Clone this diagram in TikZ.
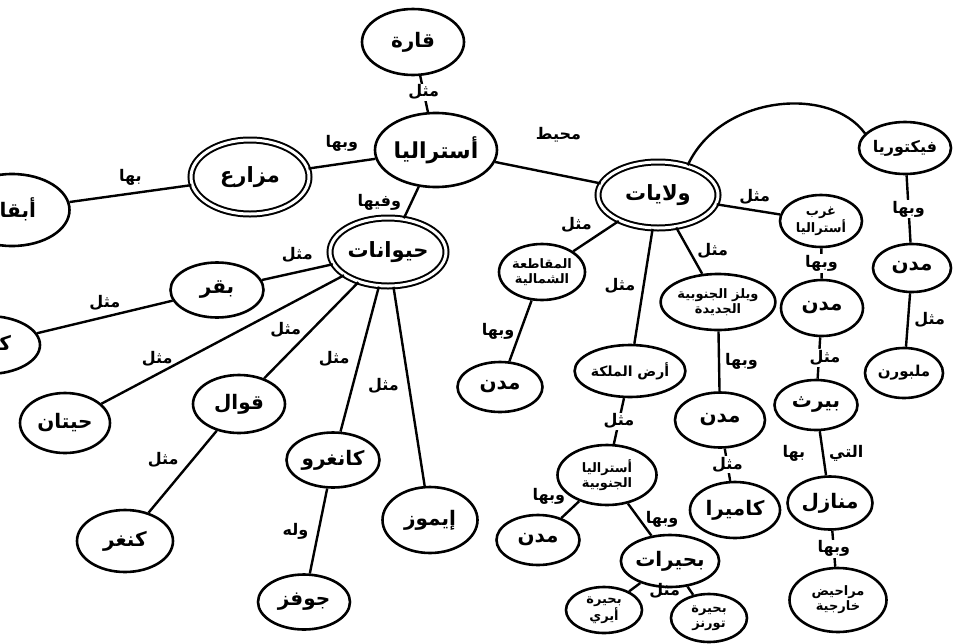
\documentclass[tikz,border=0pt]{standalone}
\usepackage{fontspec}
\usetikzlibrary{shapes.geometric}
\newfontfamily\arabicfont[Script=Arabic]{DejaVu Sans}
\TeXXeTstate=1
\newcommand{\ar}[1]{\beginR#1\endR}
\tikzset{
concept/.style={
  ellipse,
  draw,
  line width=2.6pt,
  inner sep=0pt,
  align=center,
  font=\arabicfont\bfseries\fontsize{20}{23}\selectfont
},
bigconcept/.style={
  concept,
  double,
  double distance=3pt,
  line width=2pt,
  font=\arabicfont\bfseries\fontsize{21}{24}\selectfont
},
twoline/.style={
  concept,
  font=\arabicfont\bfseries\fontsize{13}{15}\selectfont
},
sz/.style 2 args={
  minimum width=#1pt,
  minimum height=#2pt
},
link/.style={
  line width=2.4pt
},
rel/.style={
  font=\arabicfont\bfseries\fontsize{16}{18}\selectfont,
  inner sep=1pt
},
onlink/.style={
  rel,
  fill=white
}
}
\begin{document}
\begin{tikzpicture}[x=1pt,y=-1pt]
\clip (0,0) rectangle (974,643);
\fill[white] (0,0) rectangle (974,643);

% top part
\node[concept, sz={102}{66}] (qara) at (413,42) {\ar{قارة}};
\node[concept, sz={122}{74}, font=\arabicfont\bfseries\fontsize{22}{25}\selectfont] (ustralia) at (436,150) {\ar{أستراليا}};
\node[bigconcept, sz={118}{74}] (mazari) at (250,177) {\ar{مزارع}};
\node[concept, sz={115}{72}] (abqar) at (12,210) {\ar{أبقار}};

% animals
\node[bigconcept, sz={116}{68}] (hayawanat) at (388,252) {\ar{حيوانات}};
\node[concept, sz={93}{55}] (baqar) at (217,290) {\ar{بقر}};
\node[concept, sz={104}{58}] (koala) at (-12,345) {\ar{كوالا}};
\node[concept, sz={90}{60}] (hitan) at (65,423) {\ar{حيتان}};
\node[concept, sz={92}{58}] (qawal) at (239,404) {\ar{قوال}};
\node[concept, sz={96}{62}] (kanghar) at (125,541) {\ar{كنغر}};
\node[concept, sz={93}{55}] (kangaroo) at (333,460) {\ar{كانغرو}};
\node[concept, sz={92}{55}] (joey) at (304,602) {\ar{جوفز}};
\node[concept, sz={95}{66}] (emu) at (430,520) {\ar{إيموز}};

% states
\node[bigconcept, sz={120}{66}] (wilayat) at (658,195) {\ar{ولايات}};
\node[concept, sz={92}{52}, font=\arabicfont\bfseries\fontsize{16}{18}\selectfont] (victoria) at (905,148) {\ar{فيكتوريا}};
\node[concept, sz={78}{48}] (mudunV) at (912,268) {\ar{مدن}};
\node[concept, sz={78}{50}, font=\arabicfont\bfseries\fontsize{15}{18}\selectfont] (melbourne) at (904,373) {\ar{ملبورن}};
\node[twoline, sz={82}{52}] (gharb) at (821,221) {\ar{غرب}\\\ar{أستراليا}};
\node[concept, sz={82}{56}] (mudunG) at (822,308) {\ar{مدن}};
\node[concept, sz={83}{50}] (perth) at (816,405) {\ar{بيرث}};
\node[concept, sz={85}{53}] (manazil) at (830,503) {\ar{منازل}};
\node[twoline, sz={97}{64}] (marahid) at (838,600) {\ar{مراحيض}\\\ar{خارجية}};
\node[twoline, sz={86}{56}] (shamaliya) at (542,272) {\ar{المقاطعة}\\\ar{الشمالية}};
\node[concept, sz={85}{50}] (mudunS) at (500,387) {\ar{مدن}};
\node[concept, sz={86}{52}, font=\arabicfont\bfseries\fontsize{14}{16}\selectfont] (queensland) at (630,371) {\ar{أرض الملكة}};
\node[twoline, sz={108}{56}] (nsw) at (718,302) {\ar{ويلز الجنوبية}\\\ar{الجديدة}};
\node[concept, sz={90}{55}] (mudunN) at (720,420) {\ar{مدن}};
\node[concept, sz={90}{56}] (canberra) at (735,510) {\ar{كاميرا}};
\node[twoline, sz={99}{60}] (janubiya) at (607,475) {\ar{أستراليا}\\\ar{الجنوبية}};
\node[concept, sz={83}{50}] (mudunJ) at (538,540) {\ar{مدن}};
\node[concept, sz={85}{52}] (buhayrat) at (670,561) {\ar{بحيرات}};
\node[twoline, sz={76}{46}] (eyre) at (604,610) {\ar{بحيرة}\\\ar{أيري}};
\node[twoline, sz={76}{48}] (torrens) at (709,618) {\ar{بحيرة}\\\ar{تورنز}};

% links
\draw[link] (qara) -- node[onlink, pos=0.45] {\ar{مثل}} (ustralia);
\draw[link] (ustralia) -- node[rel, above=10pt] {\ar{وبها}} (mazari);
\draw[link] (mazari) -- node[rel, above=6pt] {\ar{بها}} (abqar);
\draw[link] (ustralia) -- node[rel, left=8pt] {\ar{وفيها}} (hayawanat);
\draw[link] (ustralia) -- node[rel, pos=0.6, above=30pt] {\ar{محيط}} (wilayat);

\draw[link] (hayawanat) -- node[rel, above=8pt] {\ar{مثل}} (baqar);
\draw[link] (baqar) -- node[rel, above=4pt] {\ar{مثل}} (koala);
\draw[link] (hayawanat) -- node[rel, pos=0.77, above=6pt] {\ar{مثل}} (hitan);
\draw[link] (hayawanat) -- node[rel, left=8pt] {\ar{مثل}} (qawal);
\draw[link] (hayawanat) -- node[rel, left=8pt] {\ar{مثل}} (kangaroo);
\draw[link] (hayawanat) -- node[rel, left=8pt] {\ar{مثل}} (emu);
\draw[link] (qawal) -- node[rel, above left=2pt] {\ar{مثل}} (kanghar);
\draw[link] (kangaroo) -- node[rel, left=8pt] {\ar{وله}} (joey);

\draw[link] (wilayat.45) .. controls (720,95) and (830,85) .. (victoria.160);
\draw[link] (wilayat) -- node[rel, pos=0.6, above=4pt] {\ar{مثل}} (gharb);
\draw[link] (victoria) -- node[onlink] {\ar{وبها}} (mudunV);
\draw[link] (mudunV) -- node[rel, right=4pt] {\ar{مثل}} (melbourne);
\draw[link] (gharb) -- node[onlink] {\ar{وبها}} (mudunG);
\draw[link] (mudunG) -- node[onlink, xshift=6pt] {\ar{مثل}} (perth);
\draw[link] (perth) -- node[rel] {\ar{التي\hspace{24pt}بها}} (manazil);
\draw[link] (manazil) -- node[onlink] {\ar{وبها}} (marahid);

\draw[link] (wilayat) -- node[rel, above left=2pt] {\ar{مثل}} (shamaliya);
\draw[link] (shamaliya) -- node[rel, left=4pt] {\ar{وبها}} (mudunS);
\draw[link] (wilayat) -- node[rel, left=6pt] {\ar{مثل}} (queensland);
\draw[link] (wilayat) -- node[rel, right=6pt] {\ar{مثل}} (nsw);
\draw[link] (nsw) -- node[rel, right=4pt] {\ar{وبها}} (mudunN);
\draw[link] (mudunN) -- node[onlink] {\ar{مثل}} (canberra);
\draw[link] (queensland) -- node[onlink] {\ar{مثل}} (janubiya);
\draw[link] (janubiya) -- node[rel, above left=3pt] {\ar{وبها}} (mudunJ);
\draw[link] (janubiya) -- node[rel, right=4pt] {\ar{وبها}} (buhayrat);
\draw[link] (buhayrat) -- (eyre);
\draw[link] (buhayrat) -- node[rel, left=8pt] {\ar{مثل}} (torrens);
\end{tikzpicture}
\end{document}
